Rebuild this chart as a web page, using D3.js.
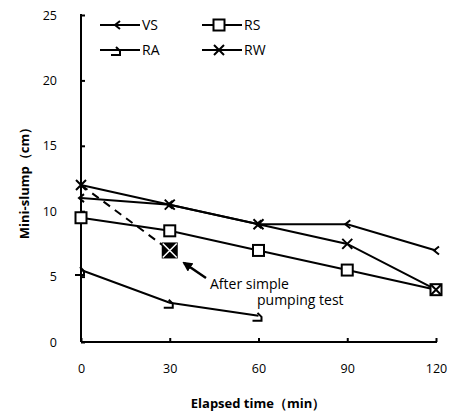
<!DOCTYPE html>
<html>
<head>
<meta charset="utf-8">
<script src="https://cdn.jsdelivr.net/npm/d3@7"></script>
<style>
  body { margin: 0; background: #fff; }
  svg { display: block; font-family: "Open Sans", "Noto Sans", sans-serif; }
</style>
</head>
<body>
<svg id="chart" width="452" height="414"></svg>
<script>
// Elapsed time (min) at which mini-slump was measured
const times = [0, 30, 60, 90, 120];
// Mini-slump (cm) per mixture
const vsValues = [11, 10.5, 9, 9, 7];
const rsValues = [9.5, 8.5, 7, 5.5, 4];
const raValues = [5.5, 3, 2];
const rwValues = [12, 10.5, 9, 7.5, 4];
// RW after the simple pumping test
const pumpTimes = [0, 30];
const pumpValues = [12, 7];
const xTicks = [0, 30, 60, 90, 120];
const yTicks = [0, 5, 10, 15, 20, 25];

const svg = d3.select("#chart");
const x = d3.scaleLinear().domain([0, 120]).range([81, 436]);
const y = d3.scaleLinear().domain([0, 25]).range([342, 15]);

// Axes with inward ticks
const xAxis = d3.axisBottom(x).tickValues(xTicks).tickSize(-4).tickPadding(22);
const yAxis = d3.axisLeft(y).tickValues(yTicks).tickSize(-4).tickPadding(24);

const gx = svg.append("g").attr("transform", `translate(0,${y(0)})`).call(xAxis);
const gy = svg.append("g").attr("transform", `translate(${x(0)},0)`).call(yAxis);
[gx, gy].forEach(g => {
  g.select(".domain").attr("stroke", "#000").attr("stroke-width", 2);
  g.selectAll(".tick line").attr("stroke", "#000").attr("stroke-width", 2);
  g.selectAll(".tick text").attr("font-size", 12.5).attr("fill", "#000")
    .attr("font-family", "'Open Sans', sans-serif");
});
gy.select(".domain").attr("d", `M0,${y(0)}V${y(25) - 1}`);
gx.select(".domain").attr("d", `M${x(0)},0H${x(120) + 1}`);

// Axis titles
svg.append("text")
  .attr("x", 258).attr("y", 408)
  .attr("text-anchor", "middle").attr("font-size", 13).attr("font-weight", "bold")
  .text("Elapsed time（min）");
svg.append("text")
  .attr("transform", "translate(29,180) rotate(-90)")
  .attr("text-anchor", "middle").attr("font-size", 13).attr("font-weight", "bold")
  .text("Mini-slump（cm）");

// Marker shapes
const markers = {
  VS: (g, px, py) => g.append("path")
      .attr("d", `M${px + 3},${py - 4}L${px - 2},${py}L${px + 3},${py + 4}`),
  RS: (g, px, py) => g.append("rect")
      .attr("x", px - 5.5).attr("y", py - 5.5).attr("width", 11).attr("height", 11)
      .attr("fill", "#fff"),
  RA: (g, px, py) => g.append("path")
      .attr("d", `M${px - 1},${py - 3}L${px + 3},${py + 1}L${px + 3},${py + 5}L${px - 6},${py + 5}`),
  RW: (g, px, py) => g.append("path")
      .attr("d", `M${px - 5},${py - 5}L${px + 5},${py + 5}M${px + 5},${py - 5}L${px - 5},${py + 5}`)
};

const series = [
  { name: "VS", values: vsValues },
  { name: "RS", values: rsValues },
  { name: "RA", values: raValues },
  { name: "RW", values: rwValues }
];

const line = d3.line().x(d => x(d[0])).y(d => y(d[1]));

// Dashed line to the after-pumping point
svg.append("path")
  .attr("d", line(pumpTimes.map((t, i) => [t, pumpValues[i]])))
  .attr("fill", "none").attr("stroke", "#000").attr("stroke-width", 2)
  .attr("stroke-dasharray", "8,6");

series.forEach(s => {
  const pts = s.values.map((v, i) => [times[i], v]);
  svg.append("path").attr("d", line(pts))
    .attr("fill", "none").attr("stroke", "#000").attr("stroke-width", 2);
});
series.forEach(s => {
  const g = svg.append("g").attr("fill", "none").attr("stroke", "#000").attr("stroke-width", 2);
  s.values.forEach((v, i) => markers[s.name](g, x(times[i]), y(v)));
});

// After-pumping marker: filled square with a white cross
{
  const px = x(pumpTimes[1]), py = y(pumpValues[1]);
  svg.append("rect").attr("x", px - 8).attr("y", py - 8).attr("width", 16).attr("height", 16)
    .attr("fill", "#000");
  svg.append("path")
    .attr("d", `M${px - 7},${py - 7}L${px + 7},${py + 7}M${px + 7},${py - 7}L${px - 7},${py + 7}`)
    .attr("stroke", "#fff").attr("stroke-width", 1.5);
}

// Arrow with annotation
svg.append("defs").append("marker")
  .attr("id", "arrowhead").attr("viewBox", "0 0 10 10").attr("refX", 8).attr("refY", 5)
  .attr("markerWidth", 4).attr("markerHeight", 4).attr("orient", "auto")
  .append("path").attr("d", "M0,0L10,5L0,10Z").attr("fill", "#000");
svg.append("line")
  .attr("x1", 206).attr("y1", 278).attr("x2", 184).attr("y2", 263)
  .attr("stroke", "#000").attr("stroke-width", 2.5).attr("marker-end", "url(#arrowhead)");
svg.append("text").attr("x", 210).attr("y", 289).attr("font-size", 14).text("After simple");
svg.append("text").attr("x", 257).attr("y", 305).attr("font-size", 14).text("pumping test");

// Legend
const legend = [
  { name: "VS", lx: 100, ly: 25 },
  { name: "RS", lx: 202, ly: 25 },
  { name: "RA", lx: 100, ly: 50 },
  { name: "RW", lx: 202, ly: 50 }
];
legend.forEach(l => {
  const g = svg.append("g").attr("fill", "none").attr("stroke", "#000").attr("stroke-width", 2);
  g.append("line").attr("x1", l.lx).attr("x2", l.lx + 40).attr("y1", l.ly).attr("y2", l.ly);
  markers[l.name](g, l.lx + 17, l.ly);
  svg.append("text").attr("x", l.lx + 42).attr("y", l.ly + 5)
    .attr("font-size", 14).text(l.name);
});
</script>
</body>
</html>
